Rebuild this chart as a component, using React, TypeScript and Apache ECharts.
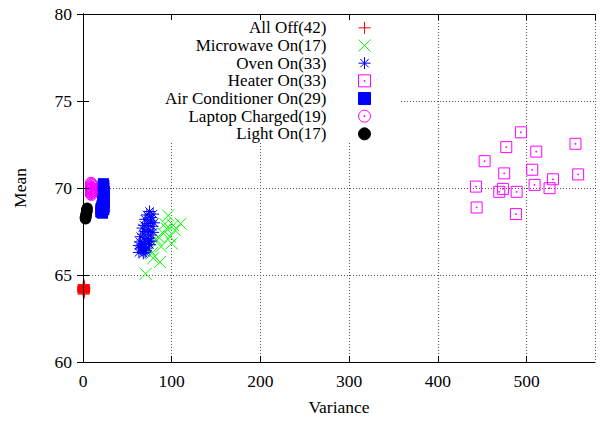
import React, { useEffect, useRef } from 'react';
import * as echarts from 'echarts';

// [variance, mean]
const allOff: number[][] = [
  [0.5, 64.2], [0.8, 64.1], [1.2, 64.3], [0.6, 64.25], [1.0, 64.15], [0.4, 64.35], [1.5, 64.2], [0.9, 64.05], [0.7, 64.3], [1.1, 64.2],
  [0.3, 64.1], [1.3, 64.25], [0.6, 64.0], [0.8, 64.4], [1.0, 64.3], [0.5, 64.15], [1.4, 64.1], [0.9, 64.25], [0.7, 64.2], [1.2, 64.15],
  [0.4, 64.05], [1.0, 63.95], [0.6, 64.3], [0.8, 64.2], [1.1, 64.35], [0.5, 64.25], [0.9, 64.1], [1.3, 64.2], [0.7, 64.15], [0.6, 63.9],
  [1.0, 64.2], [0.8, 64.3], [0.4, 64.2], [1.2, 64.05], [0.9, 64.45], [0.5, 64.3], [1.1, 64.1], [0.7, 64.0], [0.6, 64.2], [1.0, 64.25],
  [0.8, 64.15], [1.4, 64.3],
];

const microwaveOn: number[][] = [
  [70.6, 65.07], [86.8, 65.74], [79.2, 65.97], [96, 68.42], [110, 67.95], [100, 66.82], [94.3, 67.67], [90.5, 67.38], [84.8, 67.2],
  [98, 67.2], [87.9, 66.63], [77.4, 66.25], [92.4, 67.95], [83, 67.0], [103.7, 67.57], [75.5, 66.44], [101.7, 67.86],
];

const ovenOn: number[][] = [
  [75, 68.65], [79, 68.5], [72, 68.45], [77, 68.3], [70, 68.2], [76, 68.1], [80, 68.0], [73, 67.95], [69, 67.85], [78, 67.8],
  [67, 67.7], [74, 67.6], [71, 67.5], [79, 67.45], [68, 67.35], [76, 67.3], [65, 67.2], [73, 67.1], [70, 67.0], [77, 66.95],
  [64, 66.9], [69, 66.8], [75, 66.75], [63, 66.7], [67, 66.6], [72, 66.55], [65, 66.5], [71, 66.4], [63, 66.3], [68, 66.25],
  [70, 66.3], [66, 66.6], [74, 66.9],
];

const heaterOn: number[][] = [
  [493.5, 73.2], [477, 72.35], [555, 72.54], [510.8, 72.09], [452.6, 71.54], [474.7, 70.84], [506.3, 71.05], [558, 70.78],
  [529.6, 70.5], [442.8, 70.08], [473.2, 69.95], [469.1, 69.78], [488.7, 69.78], [508.9, 70.18], [525.8, 69.99], [443.6, 68.88],
  [487.9, 68.5],
];

const airConditionerOn: number[][] = [
  [23, 70.25], [22.5, 70.1], [23.5, 70.0], [22, 69.9], [24, 69.8], [23, 69.7], [22.5, 69.6], [24, 69.5], [23, 69.4], [22, 69.3],
  [24, 69.2], [23, 69.1], [21.5, 69.0], [24, 68.9], [22.5, 68.85], [20, 68.8], [23.5, 68.75], [21, 68.7], [20.5, 68.6], [22, 68.55],
  [23.5, 70.15], [22, 69.95], [23.5, 69.65], [22.5, 69.35], [23.5, 69.0], [21, 68.9], [20, 68.65], [22.5, 69.75], [23, 68.95],
];

const laptopCharged: number[][] = [
  [9, 70.3], [9.5, 70.2], [8.8, 70.1], [9.6, 70.0], [9.2, 69.95], [8.9, 69.9], [9.4, 69.85], [9.8, 69.8], [9.1, 69.75], [9.3, 69.7],
  [8.7, 69.65], [9.5, 69.6], [9.0, 70.05], [9.7, 70.15], [9.2, 69.8], [8.9, 70.0], [9.4, 70.25], [9.6, 69.7], [9.1, 69.9],
];

const lightOn: number[][] = [
  [4.8, 68.85], [4.5, 68.8], [4.2, 68.75], [4.6, 68.7], [3.9, 68.65], [4.3, 68.6], [3.6, 68.55], [4.0, 68.5], [3.3, 68.45],
  [3.8, 68.4], [2.9, 68.35], [3.4, 68.3], [2.6, 68.25], [3.0, 68.22], [2.4, 68.3], [4.4, 68.65], [3.5, 68.5],
];

const seriesNames = [
  'All Off(42)', 'Microwave On(17)', 'Oven On(33)', 'Heater On(33)',
  'Air Conditioner On(29)', 'Laptop Charged(19)', 'Light On(17)',
];

const xTicks = [0, 100, 200, 300, 400, 500];
const yTicks = [60, 65, 70, 75, 80];

const PLUS = 'path://M0,5L10,5M5,0L5,10';
const CROSS = 'path://M0,0L10,10M10,0L0,10';
const STAR = 'path://M0,5L10,5M5,0L5,10M1.5,1.5L8.5,8.5M8.5,1.5L1.5,8.5';
const BOXDOT = 'path://M0,0L10,0L10,10L0,10Z M4.6,4.6L5.4,4.6L5.4,5.4L4.6,5.4Z';
const BOX = 'path://M0,0L10,0L10,10L0,10Z';
const CIRCDOT = 'path://M0,5A5,5,0,1,1,10,5A5,5,0,1,1,0,5Z M4.6,4.6L5.4,4.6L5.4,5.4L4.6,5.4Z';

const FONT = 'Liberation Serif';
const FS = 17.5;
const LEGEND_FS = 17;

export default function App() {
  const ref = useRef<HTMLDivElement>(null);

  useEffect(() => {
    const chart = echarts.init(ref.current!, null, { renderer: 'svg' });
    const none = 'rgba(0,0,0,0)';
    const defs = [
      { name: seriesNames[0], data: allOff, symbol: PLUS, fill: none, stroke: '#ff0000', bw: 1, size: 12 },
      { name: seriesNames[1], data: microwaveOn, symbol: CROSS, fill: none, stroke: '#00ff00', bw: 1, size: 12 },
      { name: seriesNames[2], data: ovenOn, symbol: STAR, fill: none, stroke: '#0000ff', bw: 1, size: 12 },
      { name: seriesNames[3], data: heaterOn, symbol: BOXDOT, fill: none, stroke: '#ff00ff', bw: 1, size: 11 },
      { name: seriesNames[4], data: airConditionerOn, symbol: BOX, fill: '#0000ff', stroke: '#0000ff', bw: 0, size: 11 },
      { name: seriesNames[5], data: laptopCharged, symbol: CIRCDOT, fill: none, stroke: '#ff00ff', bw: 1, size: 11 },
      { name: seriesNames[6], data: lightOn, symbol: 'circle', fill: '#000000', stroke: '#000000', bw: 0, size: 11 },
    ];

    const axisLine = { show: true, lineStyle: { color: '#000', width: 1 } };
    const axisTick = { show: true, inside: true, length: 6, lineStyle: { color: '#000', width: 1 } };
    const splitLine = { show: true, lineStyle: { color: '#555', width: 1, type: [1, 2] } };
    const xBase = { type: 'value', min: 0, max: 577, interval: 100, gridIndex: 0 };
    const yBase = { type: 'value', min: 60, max: 80, interval: 5, gridIndex: 0 };
    const xFmt = (v: number) => (xTicks.indexOf(v) >= 0 ? String(v) : '');
    const yFmt = (v: number) => (yTicks.indexOf(v) >= 0 ? String(v) : '');

    const option: any = {
      animation: false,
      textStyle: { fontFamily: FONT, color: '#000' },
      grid: { left: 83, right: 5, top: 14, bottom: 54, containLabel: false },
      xAxis: [
        {
          ...xBase, position: 'bottom', z: 3,
          name: 'Variance', nameLocation: 'middle', nameGap: 36,
          nameTextStyle: { fontFamily: FONT, fontSize: FS, color: '#000' },
          axisLine, axisTick, splitLine: { show: false },
          axisLabel: { formatter: xFmt, showMaxLabel: false, margin: 10, fontFamily: FONT, fontSize: FS, color: '#000' },
        },
        {
          ...xBase, position: 'top', z: 0,
          axisLine, axisTick, splitLine, axisLabel: { show: false },
        },
      ],
      yAxis: [
        {
          ...yBase, position: 'left', z: 3,
          name: 'Mean', nameLocation: 'middle', nameGap: 54,
          nameTextStyle: { fontFamily: FONT, fontSize: FS, color: '#000' },
          axisLine, axisTick, splitLine: { show: false },
          axisLabel: { formatter: yFmt, margin: 11, fontFamily: FONT, fontSize: FS, color: '#000' },
        },
        {
          ...yBase, position: 'right', z: 0,
          axisLine, axisTick, splitLine, axisLabel: { show: false },
        },
      ],
      graphic: [
        {
          type: 'rect', z: 1, silent: true,
          shape: { x: 84, y: 20, width: 316, height: 123 },
          style: { fill: '#ffffff' },
        },
      ],
      legend: {
        orient: 'vertical',
        align: 'right',
        right: 229,
        top: 19,
        padding: 0,
        itemGap: 0,
        itemWidth: 66,
        itemHeight: 12,
        selectedMode: false,
        symbolKeepAspect: true,
        itemStyle: { borderWidth: 1 },
        textStyle: { fontFamily: FONT, fontSize: LEGEND_FS, color: '#000', lineHeight: 17.67 },
        data: defs.map((d) => ({ name: d.name, icon: d.symbol })),
      },
      series: defs.map((d) => ({
        type: 'scatter',
        name: d.name,
        xAxisIndex: 0,
        yAxisIndex: 0,
        data: d.data,
        symbol: d.symbol,
        symbolSize: d.size,
        itemStyle: { color: d.fill, borderColor: d.stroke, borderWidth: d.bw, opacity: 1 },
        emphasis: { disabled: true },
      })),
    };

    chart.setOption(option);
    return () => chart.dispose();
  }, []);

  return <div ref={ref} style={{ position: 'absolute', left: 0, top: 0, width: 600, height: 421 }} />;
}
